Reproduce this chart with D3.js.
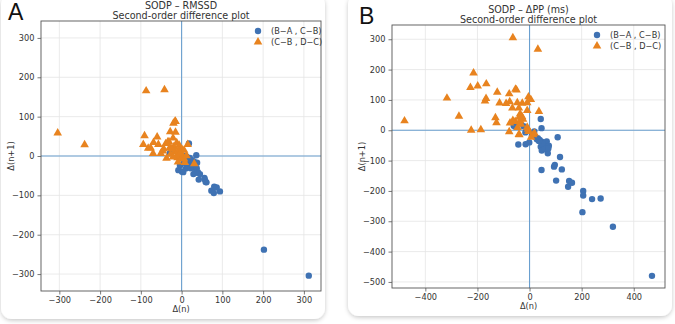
<!DOCTYPE html>
<html>
<head>
<meta charset="utf-8">
<script src="https://cdn.jsdelivr.net/npm/d3@7"></script>
<style>
  body { margin: 0; background: #fff; }
  svg { display: block; font-family: "DejaVu Sans", sans-serif; }
</style>
</head>
<body>
<svg id="chart" width="675" height="324"></svg>
<script>
// ---- data ----
const legendLabels = ['(B\u2212A , C\u2212B)', '(C\u2212B , D\u2212C)']

const rmssdBlue = [[18, 32], [-29, 8], [10, 0], [36, 2], [-4, -24], [-8, -36], [1, -40], [10, -32],
  [15, -6], [20, -12], [27, -19], [38, -17], [17, -19], [24, -26], [32, -30], [29, -46], [40, -41],
  [45, -46], [42, -60], [56, -56], [59, -66], [73, -88], [79, -94], [80, -78], [94, -90], [202, -238],
  [312, -304], [2, -4], [16, -9], [28, -22], [8, -18], [22, -31], [37, -31], [4, -41], [33, -43],
  [57, -60], [61, -67], [86, -80], [12, -2], [20, -5], [25, -10], [30, -14], [5, -12], [14, -25]]

const rmssdOrange = [[-304, 60], [-238, 30], [-87, 167], [-42, 170], [-15, 89], [-20, 85], [-15, 62],
  [-28, 63], [-91, 53], [-60, 50], [-94, 31], [-69, 36], [-76, 22], [-82, 21], [-70, 8], [-57, 31],
  [-39, 33], [-31, 38], [-21, 47], [-29, 23], [-46, 14], [-51, 8], [-19, 25], [-12, 35], [-6, 29],
  [-3, 16], [-17, 12], [-27, 6], [-37, -4], [-10, -3], [6, -6], [15, 31], [-9, -14], [8, -15],
  [31, -18], [2, 3], [1, 18], [-12, 3], [-16, 90], [-34, 37], [-8, 16], [6, 16], [-21, -1], [0, -5],
  [-24, 20], [-4, 8], [-44, 20], [12, 2]]

const ppBlue = [[43, 37], [46, 7], [-61, 15], [-43, -47], [-15, -46], [-1, -40], [18, -4], [22, -21],
  [32, -26], [39, -32], [47, -38], [55, -43], [60, -48], [43, -54], [66, -37], [62, -59], [70, -76],
  [47, -67], [108, -23], [74, -51], [46, -131], [117, -88], [94, -120], [97, -114], [124, -129],
  [102, -166], [148, -186], [152, -167], [163, -173], [206, -200], [206, -215], [240, -227],
  [273, -225], [203, -270], [320, -318], [470, -480], [-23, 13], [9, -18], [28, -30], [54, -50],
  [67, -54], [-16, -7], [-55, 12], [50, -45], [58, -62], [36, -35], [72, -60]]

const ppOrange = [[-64, 307], [32, 269], [-215, 191], [-227, 143], [-199, 148], [-166, 155], [-317, 108],
  [-480, 33], [-271, 48], [-224, 2], [-187, 4], [-124, 127], [-171, 98], [-167, 107], [-115, 92],
  [-131, 43], [-127, 27], [-78, 122], [-76, 96], [-90, 90], [-66, 75], [-50, 135], [-54, 137],
  [-47, 93], [-28, 91], [-4, 112], [5, 103], [-9, 93], [-9, 67], [36, 64], [-41, 75], [-36, 56],
  [-29, 47], [-25, 38], [-36, 34], [-55, 31], [-64, 34], [-75, 26], [-78, -3], [-46, 11], [-41, -12],
  [-9, 12], [-6, 5], [-4, -2], [19, -8], [6, -21], [14, -13], [-39, -13], [-33, 22], [-40, 45]]

const panels = [
  { letter: 'A', title: ['SODP \u2013 RMSSD', 'Second-order difference plot'],
    card: [1, -6, 324, 325], plot: { left: 41, right: 321, top: 21, bottom: 291 },
    xDomain: [-345, 342], yDomain: [-343, 343],
    xTicks: [-300, -200, -100, 0, 100, 200, 300], yTicks: [-300, -200, -100, 0, 100, 200, 300],
    blue: rmssdBlue, orange: rmssdOrange, legend: [258, 31] },
  { letter: 'B', title: ['SODP \u2013 \u0394PP (ms)', 'Second-order difference plot'],
    card: [348, -6, 324, 322], plot: { left: 392, right: 665, top: 25, bottom: 288 },
    xDomain: [-528, 520], yDomain: [-520, 347],
    xTicks: [-400, -200, 0, 200, 400], yTicks: [-500, -400, -300, -200, -100, 0, 100, 200, 300],
    blue: ppBlue, orange: ppOrange, legend: [597, 35] }
]

const blueCol = '#3f72b3'
const orangeCol = '#e8831f'
const zeroCol = '#6a9fcf'

const svg = d3.select('#chart')

const defs = svg.append('defs')
const f = defs.append('filter').attr('id', 'shadow').attr('x', '-5%').attr('y', '-5%')
  .attr('width', '110%').attr('height', '110%')
f.append('feDropShadow').attr('dx', 0).attr('dy', 1.5).attr('stdDeviation', 2)
  .attr('flood-color', '#000').attr('flood-opacity', 0.22)

const tri = d3.symbol().type(d3.symbolTriangle).size(32)

function draw_panel(p) {
  const g = svg.append('g')
  g.append('rect').attr('x', p.card[0]).attr('y', p.card[1]).attr('width', p.card[2]).attr('height', p.card[3])
    .attr('rx', 11).attr('fill', '#fff').attr('filter', 'url(#shadow)')

  const x = d3.scaleLinear().domain(p.xDomain).range([p.plot.left, p.plot.right])
  const y = d3.scaleLinear().domain(p.yDomain).range([p.plot.bottom, p.plot.top])
  const w = p.plot.right - p.plot.left, h = p.plot.bottom - p.plot.top

  const clipId = 'clip' + p.letter
  defs.append('clipPath').attr('id', clipId).append('rect')
    .attr('x', p.plot.left).attr('y', p.plot.top).attr('width', w).attr('height', h)

  // grid
  g.append('g').selectAll('line').data(p.xTicks).join('line')
    .attr('x1', d => x(d)).attr('x2', d => x(d)).attr('y1', p.plot.top).attr('y2', p.plot.bottom)
    .attr('stroke', '#e4e4e4').attr('stroke-width', 0.8)
  g.append('g').selectAll('line').data(p.yTicks).join('line')
    .attr('y1', d => y(d)).attr('y2', d => y(d)).attr('x1', p.plot.left).attr('x2', p.plot.right)
    .attr('stroke', '#e4e4e4').attr('stroke-width', 0.8)

  // zero lines
  g.append('line').attr('x1', x(0)).attr('x2', x(0)).attr('y1', p.plot.top).attr('y2', p.plot.bottom)
    .attr('stroke', zeroCol).attr('stroke-width', 1.1)
  g.append('line').attr('y1', y(0)).attr('y2', y(0)).attr('x1', p.plot.left).attr('x2', p.plot.right)
    .attr('stroke', zeroCol).attr('stroke-width', 1.1)

  const pts = g.append('g').attr('clip-path', `url(#${clipId})`)
  pts.selectAll('circle').data(p.blue).join('circle')
    .attr('cx', d => x(d[0])).attr('cy', d => y(d[1])).attr('r', 3.2).attr('fill', blueCol)
  pts.selectAll('path').data(p.orange).join('path')
    .attr('d', tri).attr('transform', d => `translate(${x(d[0])},${y(d[1]) + 0.6})`).attr('fill', orangeCol)

  // axes
  const xAxis = g.append('g').attr('transform', `translate(0,${p.plot.bottom})`)
    .call(d3.axisBottom(x).tickValues(p.xTicks).tickSize(3.5).tickPadding(3))
  const yAxis = g.append('g').attr('transform', `translate(${p.plot.left},0)`)
    .call(d3.axisLeft(y).tickValues(p.yTicks).tickSize(3.5).tickPadding(3))
  for (const ax of [xAxis, yAxis]) {
    ax.select('.domain').remove()
    ax.selectAll('line').attr('stroke', '#555').attr('stroke-width', 0.8)
    ax.selectAll('text').attr('font-size', 8.2).attr('fill', '#333').attr('font-family', '"DejaVu Sans", sans-serif')
  }
  g.append('rect').attr('x', p.plot.left).attr('y', p.plot.top).attr('width', w).attr('height', h)
    .attr('fill', 'none').attr('stroke', '#555').attr('stroke-width', 0.9)

  const cx = (p.plot.left + p.plot.right) / 2
  g.append('text').attr('x', cx).attr('y', p.plot.bottom + 21).attr('text-anchor', 'middle')
    .attr('font-size', 8.2).attr('fill', '#333').text('\u0394(n)')
  g.append('text').attr('transform', `translate(${p.plot.left - 30},${(p.plot.top + p.plot.bottom) / 2}) rotate(-90)`)
    .attr('text-anchor', 'middle').attr('dy', '0.35em').attr('font-size', 8.2).attr('fill', '#333').text('\u0394(n+1)')

  // titles
  g.append('text').attr('x', cx).attr('y', p.plot.top - 12).attr('text-anchor', 'middle')
    .attr('font-size', 9.6).attr('fill', '#333').text(p.title[0])
  g.append('text').attr('x', cx).attr('y', p.plot.top - 2).attr('text-anchor', 'middle')
    .attr('font-size', 9.6).attr('fill', '#333').text(p.title[1])

  g.append('text').attr('x', p.plot.left - 33).attr('y', p.plot.top - 1)
    .attr('font-family', '"Liberation Sans", Arial, sans-serif').attr('font-size', 23).attr('fill', '#111').text(p.letter)

  // legend
  const [lx, ly] = p.legend
  g.append('circle').attr('cx', lx).attr('cy', ly).attr('r', 3.2).attr('fill', blueCol)
  g.append('path').attr('d', tri).attr('transform', `translate(${lx},${ly + 11})`).attr('fill', orangeCol)
  g.selectAll('text.leg').data(legendLabels).join('text').attr('class', 'leg')
    .attr('x', lx + 13).attr('y', (d, i) => ly + i * 11).attr('dy', '0.35em')
    .attr('font-size', 8.2).attr('fill', '#333').text(d => d)
}

panels.forEach(draw_panel)
</script>
</body>
</html>
